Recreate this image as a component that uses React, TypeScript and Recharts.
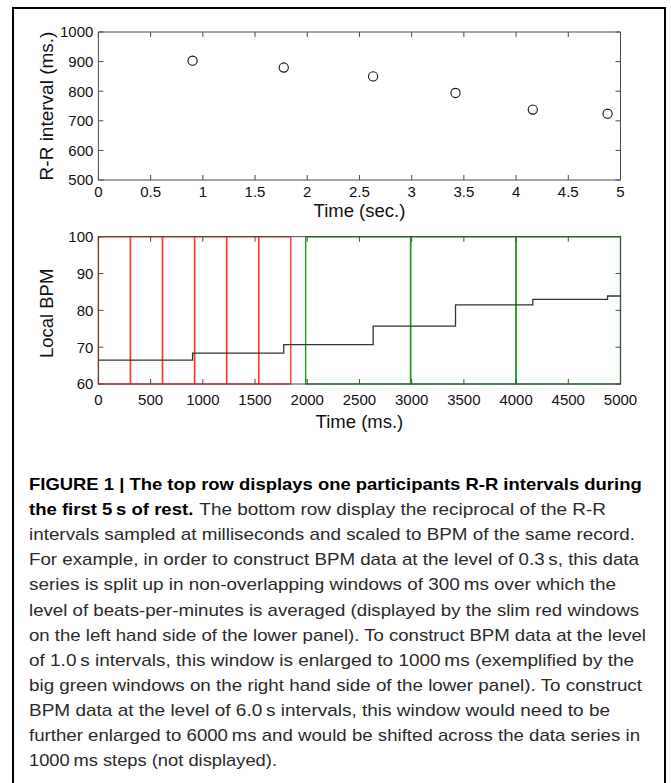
import React from 'react';
import {
  ScatterChart,
  Scatter,
  XAxis,
  YAxis,
  ComposedChart,
  Line,
  ReferenceArea,
  Label,
} from 'recharts';

// ---------- data ----------
const beatTimesSec = [0.902, 1.775, 2.631, 3.42, 4.16, 4.876];
const rrIntervalsMs = [903, 880, 850, 794, 738, 724];
const secTicks = [0, 0.5, 1, 1.5, 2, 2.5, 3, 3.5, 4, 4.5, 5];
const rrTicks = [500, 600, 700, 800, 900, 1000];

const stepTimesMs = [0, 902, 1775, 2631, 3420, 4160, 4876, 5000];
const localBpm = [66.5, 68.4, 70.7, 75.7, 81.5, 83.0, 83.9, 83.9];
const msTicks = [0, 500, 1000, 1500, 2000, 2500, 3000, 3500, 4000, 4500, 5000];
const bpmTicks = [60, 70, 80, 90, 100];

const redWindowEdgesMs = [0, 307, 614, 921, 1228, 1535, 1842];
const greenWindowEdgesMs = [1985, 2990, 4000, 5000];

const captionBold1 = 'FIGURE 1 | The top row displays one participants R-R intervals during';
const captionBold2 = 'the first 5\u2009s of rest.';
const captionRest2 = 'The bottom row display the reciprocal of the R-R';
const captionLines = [
  'intervals sampled at milliseconds and scaled to BPM of the same record.',
  'For example, in order to construct BPM data at the level of 0.3\u2009s, this data',
  'series is split up in non-overlapping windows of 300\u2009ms over which the',
  'level of beats-per-minutes is averaged (displayed by the slim red windows',
  'on the left hand side of the lower panel). To construct BPM data at the level',
  'of 1.0\u2009s intervals, this window is enlarged to 1000\u2009ms (exemplified by the',
  'big green windows on the right hand side of the lower panel). To construct',
  'BPM data at the level of 6.0\u2009s intervals, this window would need to be',
  'further enlarged to 6000\u2009ms and would be shifted across the data series in',
  '1000\u2009ms steps (not displayed).',
];
const captionLineEnds = [635, 639, 616, 639, 646, 634, 642, 610, 640, 277];

// ---------- derived tables ----------
const rrData = beatTimesSec.map((t, i) => ({ t, rr: rrIntervalsMs[i] }));
const bpmData = stepTimesMs.map((t, i) => ({ t, bpm: localBpm[i] }));
const redWindows = redWindowEdgesMs.slice(0, -1).map((a, i) => [a, redWindowEdgesMs[i + 1]]);
const greenWindows = greenWindowEdgesMs.slice(0, -1).map((a, i) => [a, greenWindowEdgesMs[i + 1]]);

const FONT = '"Liberation Sans", Arial, Helvetica, sans-serif';
const AXIS = '#4a4a4a';
const TXT = '#111';
const RED = '#ff3b2f';
const GREEN = '#1f9b1f';
const TICK_LEN = 5;

// custom ticks: inward tick marks (MATLAB style) + label
const bottomTick = (margin: number) => (props: any) => {
  const { x, y, payload } = props;
  const axisY = y - margin;
  return (
    <g>
      <line x1={x} x2={x} y1={axisY} y2={axisY - TICK_LEN} stroke={AXIS} strokeWidth={1} />
      <text
        x={x}
        y={y}
        dy="0.71em"
        textAnchor="middle"
        fontSize={15}
        fill={TXT}
        fontFamily={FONT}
      >
        {payload.value}
      </text>
    </g>
  );
};

const leftTick = (margin: number) => (props: any) => {
  const { x, y, payload } = props;
  const axisX = x + margin;
  return (
    <g>
      <line x1={axisX} x2={axisX + TICK_LEN} y1={y} y2={y} stroke={AXIS} strokeWidth={1} />
      <text
        x={x}
        y={y}
        dy="0.355em"
        textAnchor="end"
        fontSize={15}
        fill={TXT}
        fontFamily={FONT}
      >
        {payload.value}
      </text>
    </g>
  );
};

const topTick = (props: any) => {
  const { x, y } = props;
  return <line x1={x} x2={x} y1={y} y2={y + TICK_LEN} stroke={AXIS} strokeWidth={1} />;
};

const rightTick = (props: any) => {
  const { x, y } = props;
  return <line x1={x} x2={x - TICK_LEN} y1={y} y2={y} stroke={AXIS} strokeWidth={1} />;
};

const xLabel = (text: string, dy: number) => (props: any) => {
  const vb = props.viewBox || {};
  return (
    <text
      x={vb.x + vb.width / 2}
      y={vb.y + dy}
      textAnchor="middle"
      fontSize={18.5}
      fill={TXT}
      fontFamily={FONT}
    >
      {text}
    </text>
  );
};

const yLabel = (text: string, cx: number, dy: number, fs: number) => (props: any) => {
  const vb = props.viewBox || {};
  const cy = vb.y + vb.height / 2 + dy;
  return (
    <text
      x={cx}
      y={cy}
      transform={`rotate(-90, ${cx}, ${cy})`}
      textAnchor="middle"
      dominantBaseline="central"
      fontSize={fs}
      fill={TXT}
      fontFamily={FONT}
    >
      {text}
    </text>
  );
};

const OpenCircle = (props: any) => (
  <circle cx={props.cx} cy={props.cy} r={4.6} fill="none" stroke="#111" strokeWidth={1.1} />
);
const NoShape = () => <g />;

export default function App() {
  return (
    <div
      style={{
        position: 'absolute',
        left: 0,
        top: 0,
        width: 671,
        height: 783,
        background: '#fff',
        overflow: 'hidden',
      }}
    >
      <div
        style={{
          position: 'absolute',
          left: 12,
          top: 7,
          width: 650,
          height: 820,
          border: '2px solid #000',
        }}
      />

      {/* Top panel */}
      <div style={{ position: 'absolute', left: 0, top: 0 }}>
        <ScatterChart
          width={671}
          height={230}
          margin={{ top: 31, right: 49.5, left: 38.4, bottom: 0 }}
        >
          <XAxis
            xAxisId={0}
            type="number"
            dataKey="t"
            domain={[0, 5]}
            ticks={secTicks}
            allowDataOverflow
            interval={0}
            height={50}
            stroke={AXIS}
            tickLine={false}
            tickSize={0}
            tickMargin={6}
            tick={bottomTick(6)}
          >
            <Label content={xLabel('Time (sec.)', 36.5)} />
          </XAxis>
          <XAxis
            xAxisId="top"
            orientation="top"
            type="number"
            dataKey="t"
            domain={[0, 5]}
            ticks={secTicks}
            allowDataOverflow
            interval={0}
            height={1}
            stroke={AXIS}
            tickLine={false}
            tickSize={0}
            tickMargin={0}
            tick={topTick}
          />
          <YAxis
            yAxisId={0}
            type="number"
            dataKey="rr"
            domain={[500, 1000]}
            ticks={rrTicks}
            allowDataOverflow
            interval={0}
            width={60}
            stroke={AXIS}
            tickLine={false}
            tickSize={0}
            tickMargin={5}
            tick={leftTick(5)}
          >
            <Label content={yLabel('R-R interval (ms.)', 46, 0, 19)} />
          </YAxis>
          <YAxis
            yAxisId="right"
            orientation="right"
            type="number"
            dataKey="rr"
            domain={[500, 1000]}
            ticks={rrTicks}
            allowDataOverflow
            interval={0}
            width={1}
            stroke={AXIS}
            tickLine={false}
            tickSize={0}
            tickMargin={0}
            tick={rightTick}
          />
          <Scatter
            data={rrData}
            xAxisId="top"
            yAxisId="right"
            shape={NoShape}
            isAnimationActive={false}
          />
          <Scatter
            data={rrData}
            xAxisId={0}
            yAxisId={0}
            shape={OpenCircle}
            isAnimationActive={false}
          />
        </ScatterChart>
      </div>

      {/* Bottom panel */}
      <div style={{ position: 'absolute', left: 0, top: 200 }}>
        <ComposedChart
          width={671}
          height={240}
          data={bpmData}
          margin={{ top: 35.7, right: 49.5, left: 38.4, bottom: 0 }}
        >
          <XAxis
            xAxisId={0}
            type="number"
            dataKey="t"
            domain={[0, 5000]}
            ticks={msTicks}
            allowDataOverflow
            interval={0}
            height={56}
            stroke={AXIS}
            tickLine={false}
            tickSize={0}
            tickMargin={10}
            tick={bottomTick(10)}
          >
            <Label content={xLabel('Time (ms.)', 44.3)} />
          </XAxis>
          <XAxis
            xAxisId="top"
            orientation="top"
            type="number"
            dataKey="t"
            domain={[0, 5000]}
            ticks={msTicks}
            allowDataOverflow
            interval={0}
            height={1}
            stroke={AXIS}
            tickLine={false}
            tickSize={0}
            tickMargin={0}
            tick={topTick}
          />
          <YAxis
            yAxisId={0}
            type="number"
            domain={[60, 100]}
            ticks={bpmTicks}
            allowDataOverflow
            interval={0}
            width={60}
            stroke={AXIS}
            tickLine={false}
            tickSize={0}
            tickMargin={5}
            tick={leftTick(5)}
          >
            <Label content={yLabel('Local BPM', 47, 3, 18.5)} />
          </YAxis>
          <YAxis
            yAxisId="right"
            orientation="right"
            type="number"
            domain={[60, 100]}
            ticks={bpmTicks}
            allowDataOverflow
            interval={0}
            width={1}
            stroke={AXIS}
            tickLine={false}
            tickSize={0}
            tickMargin={0}
            tick={rightTick}
          />
          <Line
            xAxisId="top"
            yAxisId="right"
            dataKey="bpm"
            stroke="none"
            dot={false}
            activeDot={false}
            isAnimationActive={false}
          />
          <Line
            xAxisId={0}
            yAxisId={0}
            type="stepAfter"
            dataKey="bpm"
            stroke="#333"
            strokeWidth={1.3}
            dot={false}
            activeDot={false}
            isAnimationActive={false}
          />
          {redWindows.map(([a, b], i) => (
            <ReferenceArea
              key={'r' + i}
              xAxisId={0}
              yAxisId={0}
              x1={a}
              x2={b}
              y1={60}
              y2={100}
              fill="none"
              fillOpacity={0}
              stroke={RED}
              strokeWidth={1.4}
              strokeOpacity={1}
              ifOverflow="visible"
            />
          ))}
          {greenWindows.map(([a, b], i) => (
            <ReferenceArea
              key={'g' + i}
              xAxisId={0}
              yAxisId={0}
              x1={a}
              x2={b}
              y1={60}
              y2={100}
              fill="none"
              fillOpacity={0}
              stroke={GREEN}
              strokeWidth={1.4}
              strokeOpacity={1}
              ifOverflow="visible"
            />
          ))}
        </ComposedChart>
      </div>

      {/* Caption */}
      <svg
        width={671}
        height={783}
        style={{ position: 'absolute', left: 0, top: 0, pointerEvents: 'none' }}
      >
        <g fontFamily={FONT} fontSize={17}>
          <text
            x={29}
            y={490}
            fontWeight={700}
            fill="#000"
            textLength={612.7}
            lengthAdjust="spacingAndGlyphs"
          >
            {captionBold1}
          </text>
          <text
            x={29}
            y={515.1}
            fontWeight={700}
            fill="#000"
            textLength={164.3}
            lengthAdjust="spacingAndGlyphs"
          >
            {captionBold2}
          </text>
          <text
            x={199.3}
            y={515.1}
            fill="#2a2a2a"
            textLength={406.7}
            lengthAdjust="spacingAndGlyphs"
          >
            {captionRest2}
          </text>
          {captionLines.map((line, i) => (
            <text
              key={i}
              x={29}
              y={540.2 + 25.1 * i}
              fill="#2a2a2a"
              textLength={captionLineEnds[i] - 29}
              lengthAdjust="spacingAndGlyphs"
            >
              {line}
            </text>
          ))}
        </g>
      </svg>
    </div>
  );
}
